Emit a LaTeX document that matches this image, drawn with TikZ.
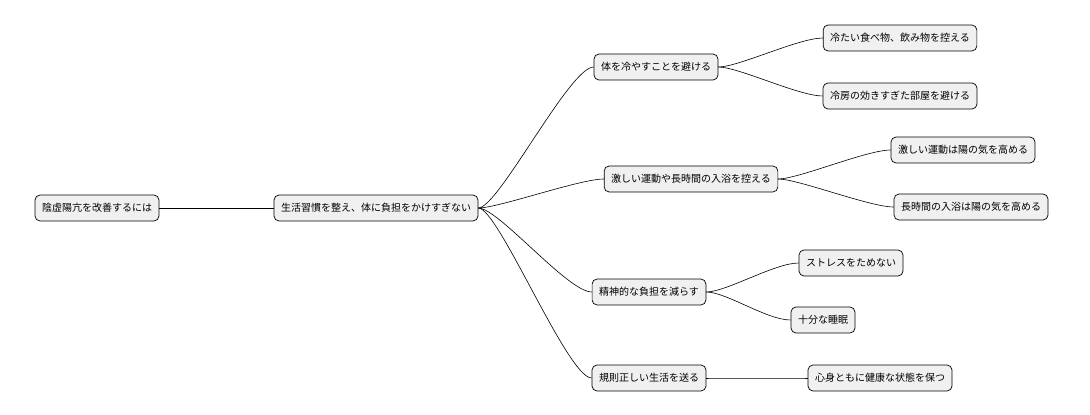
\documentclass[tikz,border=0pt]{standalone}
\usepackage{fontspec}
\setmainfont{Noto Sans CJK JP}
\begin{document}
\begin{tikzpicture}[x=1pt,y=-1pt,
  box/.style={draw=black,line width=0.7pt,fill=black!6,rounded corners=5pt,minimum height=26pt,inner xsep=7pt,font=\fontsize{10}{12}\selectfont,anchor=center},
  conn/.style={draw=black,line width=0.6pt}]
\useasboundingbox (0,0) rectangle (1090,415);
\node[box] (r) at (97,208) {陰虚陽亢を改善するには};
\node[box] (a) at (376,208) {生活習慣を整え、体に負担をかけすぎない};
\node[box] (b1) at (656,67) {体を冷やすことを避ける};
\node[box] (c1) at (900,38) {冷たい食べ物、飲み物を控える};
\node[box] (c2) at (900,96) {冷房の効きすぎた部屋を避ける};
\node[box] (b2) at (691,179) {激しい運動や長時間の入浴を控える};
\node[box] (c3) at (963,150) {激しい運動は陽の気を高める};
\node[box] (c4) at (971,207) {長時間の入浴は陽の気を高める};
\node[box] (b3) at (649,292) {精神的な負担を減らす};
\node[box] (c5) at (851,263) {ストレスをためない};
\node[box] (c6) at (823,320) {十分な睡眠};
\node[box] (b4) at (649,378) {規則正しい生活を送る};
\node[box] (c7) at (880,378) {心身ともに健康な状態を保つ};
\draw[conn] (r.east) -- (a.west);
\foreach \p/\c in {a/b1,a/b2,a/b3,a/b4,b1/c1,b1/c2,b2/c3,b2/c4,b3/c5,b3/c6,b4/c7}{
  \draw[conn] (\p.east) .. controls ([xshift=20pt]\p.east) and ([xshift=-24pt]\c.west) .. (\c.west);
}
\end{tikzpicture}
\end{document}
